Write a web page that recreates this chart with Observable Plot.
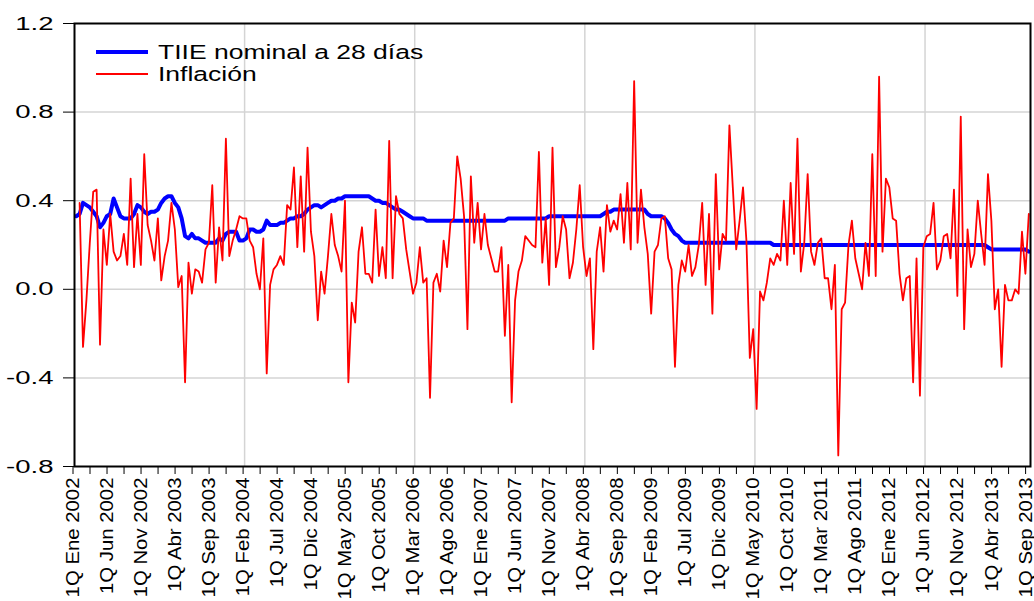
<!DOCTYPE html>
<html><head><meta charset="utf-8">
<script src="https://cdn.jsdelivr.net/npm/d3@7"></script>
<script src="https://cdn.jsdelivr.net/npm/@observablehq/plot@0.6"></script>
<style>
body{margin:0;background:#fff;}
#chart{position:relative;width:1034px;height:601px;overflow:hidden;}
</style>
</head><body><div id="chart"></div>
<script>
// Tick labels (every 10 quincenas, starting 1Q Ene 2002)
const xTickLabels = ["1Q Ene 2002","1Q Jun 2002","1Q Nov 2002","1Q Abr 2003","1Q Sep 2003","1Q Feb 2004","1Q Jul 2004","1Q Dic 2004","1Q May 2005","1Q Oct 2005","1Q Mar 2006","1Q Ago 2006","1Q Ene 2007","1Q Jun 2007","1Q Nov 2007","1Q Abr 2008","1Q Sep 2008","1Q Feb 2009","1Q Jul 2009","1Q Dic 2009","1Q May 2010","1Q Oct 2010","1Q Mar 2011","1Q Ago 2011","1Q Ene 2012","1Q Jun 2012","1Q Nov 2012","1Q Abr 2013","1Q Sep 2013"];
const yTicks = [-0.8, -0.4, 0, 0.4, 0.8, 1.2];
const seriesNames = ["TIIE nominal a 28 días", "Inflación"];

// TIIE nominal a 28 días (quincenal)
const tiie = [
0.33,0.34,0.39,0.38,0.37,0.35,0.33,0.28,0.30,0.33,
0.34,0.41,0.37,0.33,0.32,0.32,0.32,0.34,0.38,0.37,
0.35,0.34,0.35,0.35,0.36,0.39,0.41,0.42,0.42,0.39,
0.37,0.32,0.24,0.23,0.25,0.23,0.23,0.22,0.21,0.21,
0.21,0.21,0.23,0.22,0.25,0.26,0.26,0.26,0.22,0.22,
0.23,0.27,0.27,0.26,0.26,0.27,0.31,0.29,0.29,0.29,
0.30,0.30,0.31,0.32,0.32,0.33,0.33,0.34,0.36,0.37,
0.38,0.38,0.37,0.38,0.39,0.40,0.40,0.41,0.41,0.42,
0.42,0.42,0.42,0.42,0.42,0.42,0.42,0.41,0.40,0.40,
0.39,0.39,0.38,0.37,0.36,0.36,0.35,0.34,0.33,0.32,
0.32,0.32,0.32,0.31,0.31,0.31,0.31,0.31,0.31,0.31,
0.31,0.31,0.31,0.31,0.31,0.31,0.31,0.31,0.31,0.31,
0.31,0.31,0.31,0.31,0.31,0.31,0.31,0.32,0.32,0.32,
0.32,0.32,0.32,0.32,0.32,0.32,0.32,0.32,0.32,0.33,
0.33,0.33,0.33,0.33,0.33,0.33,0.33,0.33,0.33,0.33,
0.33,0.33,0.33,0.33,0.33,0.34,0.35,0.35,0.36,0.36,
0.36,0.36,0.36,0.36,0.36,0.36,0.36,0.36,0.34,0.33,
0.33,0.33,0.33,0.32,0.30,0.27,0.25,0.24,0.22,0.21,
0.21,0.21,0.21,0.21,0.21,0.21,0.21,0.21,0.21,0.21,
0.21,0.21,0.21,0.21,0.21,0.21,0.21,0.21,0.21,0.21,
0.21,0.21,0.21,0.21,0.21,0.20,0.20,0.20,0.20,0.20,
0.20,0.20,0.20,0.20,0.20,0.20,0.20,0.20,0.20,0.20,
0.20,0.20,0.20,0.20,0.20,0.20,0.20,0.20,0.20,0.20,
0.20,0.20,0.20,0.20,0.20,0.20,0.20,0.20,0.20,0.20,
0.20,0.20,0.20,0.20,0.20,0.20,0.20,0.20,0.20,0.20,
0.20,0.20,0.20,0.20,0.20,0.20,0.20,0.20,0.20,0.20,
0.20,0.20,0.20,0.20,0.20,0.20,0.20,0.20,0.19,0.18,
0.18,0.18,0.18,0.18,0.18,0.18,0.18,0.18,0.18,0.18,
0.17];

// Inflación (quincenal)
const inflacion = [
null,0.39,-0.26,-0.05,0.21,0.44,0.45,-0.25,0.27,0.11,
0.34,0.17,0.13,0.15,0.25,0.11,0.50,0.10,0.34,0.11,
0.61,0.29,0.22,0.13,0.32,0.04,0.15,0.22,0.39,0.27,
0.01,0.06,-0.42,0.12,-0.02,0.09,0.08,0.03,0.18,0.21,
0.47,0.03,0.28,0.13,0.68,0.15,0.22,0.27,0.33,0.32,
0.32,0.22,0.19,0.07,0.00,0.23,-0.38,0.02,0.09,0.11,
0.15,0.11,0.38,0.36,0.55,0.19,0.51,0.17,0.64,0.26,
0.15,-0.14,0.08,-0.02,0.15,0.34,0.20,0.15,0.08,0.40,
-0.42,-0.06,-0.15,0.17,0.28,0.07,0.07,0.03,0.36,0.06,
0.19,0.05,0.67,0.05,0.42,0.34,0.32,0.18,0.08,-0.02,
0.03,0.19,0.03,0.05,-0.49,0.03,0.07,-0.01,0.22,0.10,
0.30,0.32,0.60,0.50,0.33,-0.18,0.51,0.21,0.39,0.18,
0.34,0.20,0.14,0.08,0.08,0.19,-0.21,0.11,-0.51,-0.05,
0.08,0.13,0.24,0.22,0.20,0.19,0.62,0.12,0.32,0.02,
0.64,0.10,0.19,0.33,0.27,0.05,0.12,0.27,0.47,0.19,
0.06,0.14,-0.27,0.17,0.28,0.08,0.38,0.26,0.31,0.27,
0.43,0.21,0.48,0.18,0.94,0.21,0.45,0.28,0.16,-0.11,
0.17,0.20,0.32,0.33,0.14,0.09,-0.35,0.02,0.13,0.08,
0.20,0.06,0.10,0.20,0.39,0.02,0.34,-0.11,0.52,0.09,
0.25,0.22,0.74,0.46,0.18,0.31,0.46,0.22,-0.31,-0.18,
-0.54,-0.01,-0.05,0.03,0.14,0.11,0.16,0.13,0.40,0.11,
0.48,0.16,0.68,0.08,0.21,0.52,0.17,0.11,0.21,0.23,
0.05,0.05,-0.09,0.11,-0.75,-0.09,-0.06,0.20,0.31,0.14,
0.07,0.00,0.21,0.06,0.61,0.06,0.96,0.17,0.50,0.46,
0.32,0.31,0.07,-0.05,0.05,0.06,-0.42,0.14,-0.48,0.19,
0.24,0.25,0.39,0.09,0.13,0.24,0.25,0.14,0.45,-0.03,
0.78,-0.18,0.27,0.10,0.16,0.40,0.25,0.11,0.52,0.31,
-0.09,0.00,-0.35,0.02,-0.05,-0.05,0.00,-0.02,0.26,0.07,
0.34];

const data = tiie.map((v, i) => ({i, tiie: v, inflacion: inflacion[i]}));
const nPeriods = data.length;
const xPos = d => d.i + 0.5;

const svg = Plot.plot({
  width: 1034,
  height: 601,
  marginLeft: 74,
  marginRight: 4,
  marginTop: 23,
  marginBottom: 135,
  style: {fontFamily: "'Liberation Sans', Arial, sans-serif", fontSize: "19px", color: "black", background: "white"},
  x: {domain: [0, nPeriods], label: null},
  y: {domain: [-0.8, 1.2], label: null},
  marks: [
    Plot.gridY(yTicks.filter(t => t > -0.8 && t < 1.2), {stroke: "#d4d4d4", strokeOpacity: 1, strokeWidth: 1.5}),
    Plot.gridX(d3.range(50, nPeriods, 50), {stroke: "#d4d4d4", strokeOpacity: 1, strokeWidth: 1.5}),
    Plot.lineY(data, {x: xPos, y: "tiie", stroke: "#0000ff", strokeWidth: 4, curve: "linear"}),
    Plot.lineY(data, {x: xPos, y: "inflacion", stroke: "#ff0000", strokeWidth: 1.8, curve: "linear"}),
    Plot.axisX({ticks: d3.range(0, nPeriods, 5), tickFormat: d => d % 10 === 0 ? xTickLabels[d / 10] : "",
      tickRotate: -90, tickSize: 8, tickPadding: 3, fontSize: 18.5, dx: -1.5, label: null}),
    Plot.axisY({ticks: yTicks, tickFormat: d => d.toFixed(1), tickSize: 11, tickPadding: 10, fontSize: 19, label: null}),
    Plot.frame({stroke: "black", strokeWidth: 2})
  ]
});

// stretch text like the reference
d3.select(svg).selectAll('g[aria-label="y-axis tick label"] text').each(function() {
  const t = this.getAttribute("transform") || "";
  this.setAttribute("transform", t + " scale(1.45,1)");
});
d3.select(svg).selectAll('g[aria-label="x-axis tick label"] text').each(function() {
  const t = this.getAttribute("transform") || "";
  this.setAttribute("transform", t + " scale(1.1,1)");
});

// legend inside plot area
const legendColors = ["#0000ff", "#ff0000"];
const legendWidths = [4, 1.8];
const lg = d3.select(svg).append("g").attr("text-anchor", "start");
seriesNames.forEach((name, k) => {
  const y = 52 + k * 22;
  lg.append("line").attr("x1", 96).attr("x2", 148).attr("y1", y).attr("y2", y)
    .attr("stroke", legendColors[k]).attr("stroke-width", legendWidths[k]);
  lg.append("text").attr("transform", `translate(158,${y}) scale(1.36,1)`)
    .attr("text-anchor", "start").attr("dy", "0.35em").attr("font-size", 19.5).attr("fill", "black").text(name);
});

document.getElementById("chart").appendChild(svg);
</script>
</body></html>
